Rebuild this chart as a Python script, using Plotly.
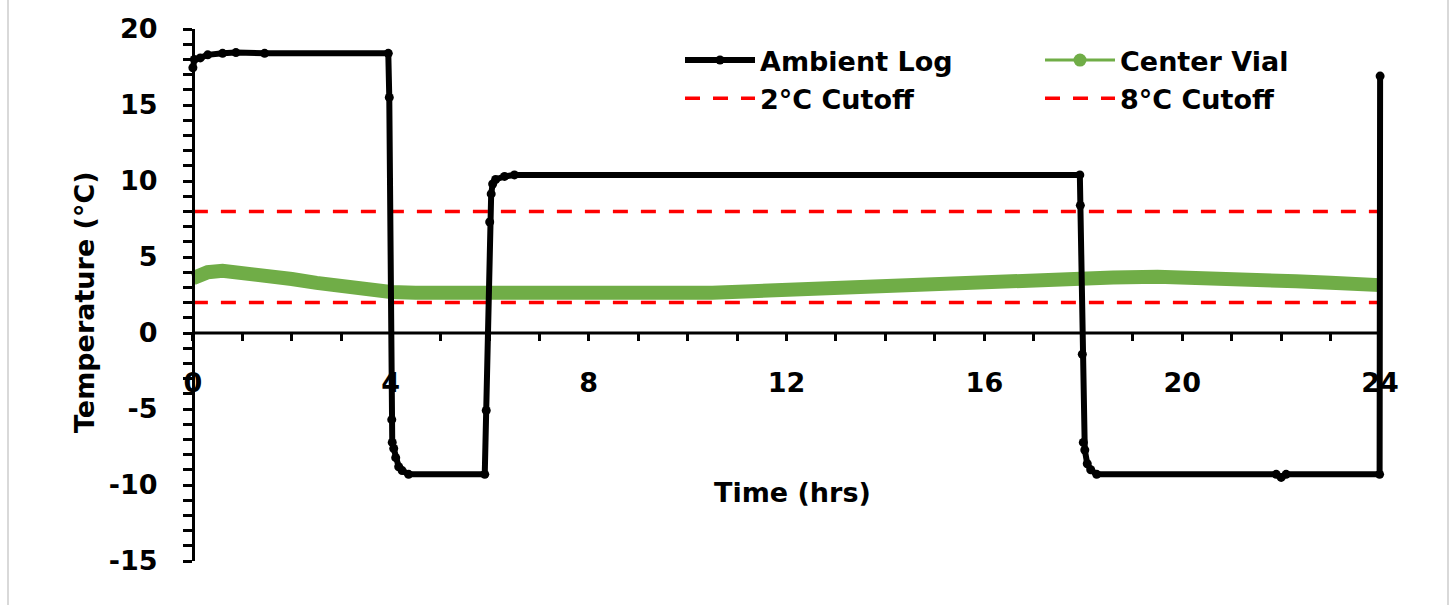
import plotly.graph_objects as go

# ---------------- data ----------------
ambient_t = [0.0, 0.03, 0.15, 0.3, 0.6, 0.87, 1.45, 3.95, 3.97, 4.02, 4.03, 4.06, 4.1, 4.16, 4.23, 4.36,
             5.9, 5.93, 6.0, 6.03, 6.06, 6.12, 6.3, 6.5, 17.93, 17.94, 17.98, 18.0, 18.03,
             18.08, 18.15, 18.27, 21.9, 22.0, 22.1, 23.99, 24.0]
ambient_v = [17.45, 18.0, 18.1, 18.3, 18.4, 18.45, 18.4, 18.4, 15.5, -5.7, -7.2, -7.6, -8.2, -8.8, -9.05, -9.3,
             -9.3, -5.1, 7.3, 9.15, 9.8, 10.1, 10.3, 10.4, 10.4, 8.4, -1.4, -7.2, -7.7,
             -8.6, -9.0, -9.3, -9.3, -9.5, -9.3, -9.3, 16.9]

vial_t = [0.0, 0.3, 0.6, 1.0, 1.5, 2.0, 2.5, 3.0, 3.5, 4.0, 4.5, 5.0, 6.0, 7.0, 8.0, 9.0, 9.6, 10.5, 11.3,
          12.0, 12.7, 13.4, 14.1, 14.9, 15.7, 16.6, 17.5, 18.6, 19.5, 20.8, 21.7, 22.3, 23.0, 24.0]
vial_v = [3.6, 4.0, 4.1, 4.0, 3.8, 3.55, 3.3, 3.05, 2.85, 2.7, 2.65, 2.65, 2.65, 2.55, 2.5, 2.5, 2.55, 2.65, 2.75,
          2.85, 2.95, 3.05, 3.15, 3.3, 3.4, 3.5, 3.55, 3.65, 3.7, 3.65, 3.5, 3.4, 3.3, 3.15]

cutoff_t = [0, 24]
cutoff_low = [2, 2]
cutoff_high = [8, 8]

x_tick_vals = [0, 4, 8, 12, 16, 20, 24]
x_tick_text = ["0", "4", "8", "12", "16", "20", "24"]
y_tick_vals = [-15, -10, -5, 0, 5, 10, 15, 20]
y_tick_text = ["-15", "-10", "-5", "0", "5", "10", "15", "20"]

x_range = [-0.2, 24.2]
y_range = [-15, 20]

# ---------------- styling ----------------
FONT = "DejaVu Sans"
FS = 27
BLACK = "#000000"
GREEN = "#70AD47"
RED = "#FF0000"

W, H = 1455, 605
ML, MR, MT, MB = 183, 65, 29, 44
PW = W - ML - MR
PH = H - MT - MB


def px_x(px):
    return (px - ML) / PW


def px_y(py):
    return 1 - (py - MT) / PH


fig = go.Figure()

# red cutoff lines (drawn first, below the data)
fig.add_trace(go.Scatter(x=cutoff_t, y=cutoff_low, mode="lines", name="2°C Cutoff",
                         line=dict(color=RED, width=3.5, dash="15px,13px"),
                         legend="legend", legendrank=2, hoverinfo="skip"))
fig.add_trace(go.Scatter(x=cutoff_t, y=cutoff_high, mode="lines", name="8°C Cutoff",
                         line=dict(color=RED, width=3.5, dash="15px,13px"),
                         legend="legend2", legendrank=2, hoverinfo="skip"))

# centre vial: thick green band
fig.add_trace(go.Scatter(x=vial_t, y=vial_v, mode="lines", name="Center Vial",
                         line=dict(color=GREEN, width=14), showlegend=False, cliponaxis=False))
# legend entry for the centre vial
fig.add_trace(go.Scatter(x=[None], y=[None], mode="lines+markers", name="Center Vial",
                         line=dict(color=GREEN, width=3), marker=dict(color=GREEN, size=13),
                         legend="legend2", legendrank=1))

# ambient log
fig.add_trace(go.Scatter(x=ambient_t, y=ambient_v, mode="lines+markers", name="Ambient Log",
                         line=dict(color=BLACK, width=6), marker=dict(color=BLACK, size=9),
                         cliponaxis=False, legend="legend", legendrank=1))

axis_font = dict(family=FONT, size=FS, color=BLACK, weight="bold")

fig.update_layout(
    width=W, height=H,
    margin=dict(l=ML, r=MR, t=MT, b=MB, autoexpand=False),
    paper_bgcolor="white", plot_bgcolor="white",
    font=dict(family=FONT, size=FS, color=BLACK),
    xaxis=dict(range=x_range, anchor="free", position=15 / 35, showline=False, showgrid=False,
               zeroline=False, tickmode="array", tickvals=x_tick_vals, ticktext=x_tick_text,
               ticks="outside", ticklen=7, tickwidth=3,
               tickcolor=BLACK, tickfont=axis_font, ticklabelstandoff=19,
               minor=dict(dtick=1, tick0=0, ticks="outside", ticklen=7, tickwidth=3, tickcolor=BLACK)),
    yaxis=dict(range=y_range, anchor="free", position=0.2 / 24.4, showline=True, linecolor=BLACK,
               linewidth=3, showgrid=False, zeroline=False, tickmode="array", tickvals=y_tick_vals,
               ticktext=y_tick_text, ticks="outside",
               ticklen=9, tickwidth=3, tickcolor=BLACK, tickfont=axis_font, ticklabelstandoff=20,
               minor=dict(dtick=1, tick0=0, ticks="outside", ticklen=9, tickwidth=3, tickcolor=BLACK)),
    legend=dict(x=px_x(680), y=px_y(36), xanchor="left", yanchor="top", orientation="v",
                bgcolor="rgba(0,0,0,0)", font=dict(family=FONT, size=FS, color=BLACK, weight="bold"),
                itemwidth=70, tracegroupgap=0),
    legend2=dict(x=px_x(1040), y=px_y(36), xanchor="left", yanchor="top", orientation="v",
                 bgcolor="rgba(0,0,0,0)", font=dict(family=FONT, size=FS, color=BLACK, weight="bold"),
                 itemwidth=70, tracegroupgap=0),
    shapes=[
        # x axis line at y = 0
        dict(type="line", xref="x", yref="y", x0=0, x1=24, y0=0, y1=0,
             line=dict(color=BLACK, width=3), layer="below"),
        # chart-area border (left / right)
        dict(type="line", xref="paper", yref="paper", x0=px_x(8), x1=px_x(8), y0=-0.2, y1=1.2,
             line=dict(color="#D9D9D9", width=2)),
        dict(type="line", xref="paper", yref="paper", x0=px_x(1448), x1=px_x(1448), y0=-0.2, y1=1.2,
             line=dict(color="#D9D9D9", width=2)),
    ],
    annotations=[
        dict(text="Time (hrs)", xref="paper", yref="paper", x=px_x(792), y=px_y(492),
             showarrow=False, font=dict(family=FONT, size=FS, color=BLACK, weight="bold"),
             xanchor="center", yanchor="middle"),
        dict(text="Temperature (°C)", xref="paper", yref="paper", x=px_x(84), y=px_y(302),
             showarrow=False, textangle=-90, font=dict(family=FONT, size=FS, color=BLACK, weight="bold"),
             xanchor="center", yanchor="middle"),
    ],
)

fig.write_html("out.html", config={"displayModeBar": False},
               post_script="document.body.style.margin='0';")
